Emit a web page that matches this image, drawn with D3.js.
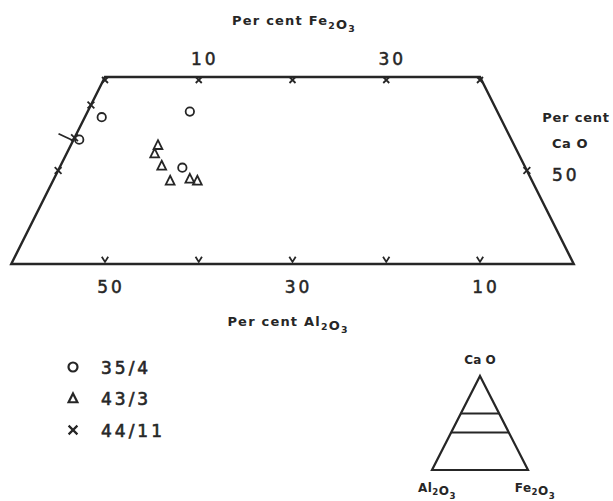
<!DOCTYPE html>
<html>
<head>
<meta charset="utf-8">
<script src="https://cdn.jsdelivr.net/npm/d3@7"></script>
<style>
  body { margin: 0; background: #fff; }
  svg { display: block; }
</style>
</head>
<body>
<div id="chart"></div>
<script>
// CaO-Al2O3-Fe2O3 ternary section (CaO 40-60 %), with inset key triangle

const WIDTH = 613;
const HEIGHT = 501;

// data: each point is {cao, fe} in per cent, Al2O3 is the rest
const s35_4 = [
	{cao: 55.7, fe: 1.8},
	{cao: 53.3, fe: 0.6},
	{cao: 56.3, fe: 10.9},
	{cao: 50.3, fe: 13.1}
];
const s43_3 = [
	{cao: 52.7, fe: 9.3},
	{cao: 51.8, fe: 9.4},
	{cao: 50.5, fe: 10.8},
	{cao: 48.9, fe: 12.5},
	{cao: 49.1, fe: 14.5},
	{cao: 48.9, fe: 15.4}
];
const s44_11 = [
	{cao: 57.0, fe: 0},
	{cao: 53.5, fe: 0}
];

const caoRange = [40, 60];
const feTicks = [0, 10, 20, 30, 40];     // along top edge (CaO = 60)
const feLabels = [10, 30];
const alTicks = [50, 40, 30, 20, 10];     // along bottom edge (CaO = 40)
const alLabels = [50, 30, 10];
const caoTicks = [50];                    // on both sloping edges
const caoLabels = [50];
const legendNames = ['35/4', '43/3', '44/11'];
const insetLines = [60, 40];              // CaO levels shown in key triangle

const INK = '#262626';

const svg = d3.select('#chart')
	.append('svg')
	.attr('width', WIDTH)
	.attr('height', HEIGHT)
	.attr('viewBox', `0 0 ${WIDTH} ${HEIGHT}`)
	.style('font-family', '"DejaVu Sans", sans-serif');

// horizontal position is driven by Fe2O3 + CaO/2, vertical by CaO
const xScale = d3.scaleLinear().domain([0, 100]).range([-176.25, 761.25]);
const yScale = d3.scaleLinear().domain(caoRange).range([264, 77]);
const proj = (cao, fe) => [xScale(fe + cao / 2), yScale(cao)];

const [cLo, cHi] = caoRange;
const corners = [
	proj(cHi, 0), proj(cHi, 100 - cHi),
	proj(cLo, 100 - cLo), proj(cLo, 0)
];

svg.append('path')
	.attr('d', d3.line()(corners) + 'Z')
	.attr('fill', 'none')
	.attr('stroke', INK)
	.attr('stroke-width', 2.4)
	.attr('stroke-linejoin', 'miter');

// small cross used for ticks and the 44/11 symbol
function crossPath(s) {
	return `M${-s},${-s}L${s},${s}M${s},${-s}L${-s},${s}`;
}

function vPath(s) {
	return `M${-s},${-s}L0,${s * 0.6}L${s},${-s}`;
}

// ticks on top edge (point inward = downward)
svg.append('g').selectAll('path')
	.data(feTicks)
	.join('path')
	.attr('transform', d => {
		const [x, y] = proj(cHi, d);
		return `translate(${x},${y + 3})`;
	})
	.attr('d', crossPath(3))
	.attr('stroke', INK)
	.attr('stroke-width', 1.8)
	.attr('fill', 'none');

// ticks on bottom edge (point upward)
svg.append('g').selectAll('path')
	.data(alTicks)
	.join('path')
	.attr('transform', d => {
		const [x, y] = proj(cLo, 100 - cLo - d);
		return `translate(${x},${y - 4})`;
	})
	.attr('d', vPath(3.2))
	.attr('stroke', INK)
	.attr('stroke-width', 1.8)
	.attr('fill', 'none');

// CaO ticks on left (Fe2O3 = 0) and right (Al2O3 = 0) edges
const sideTickPts = caoTicks.flatMap(c => [proj(c, 0), proj(c, 100 - c)]);
svg.append('g').selectAll('path')
	.data(sideTickPts)
	.join('path')
	.attr('transform', d => `translate(${d[0]},${d[1]})`)
	.attr('d', crossPath(3.4))
	.attr('stroke', INK)
	.attr('stroke-width', 1.8)
	.attr('fill', 'none');

// tick labels
const numStyle = sel => sel
	.attr('fill', INK)
	.attr('stroke', INK)
	.attr('stroke-width', 0.5)
	.style('font-size', '17px')
	.style('letter-spacing', '3px')
	.attr('text-anchor', 'middle');

svg.append('g').selectAll('text')
	.data(feLabels)
	.join('text')
	.attr('x', d => proj(cHi, d)[0] + 6)
	.attr('y', 65)
	.text(d => d)
	.call(numStyle);

svg.append('g').selectAll('text')
	.data(alLabels)
	.join('text')
	.attr('x', d => proj(cLo, 100 - cLo - d)[0] + 6)
	.attr('y', 293)
	.text(d => d)
	.call(numStyle);

svg.append('g').selectAll('text')
	.data(caoLabels)
	.join('text')
	.attr('x', d => proj(d, 100 - d)[0] + 39)
	.attr('y', d => proj(d, 100 - d)[1] + 10)
	.text(d => d)
	.call(numStyle);

// chemical formula helper with subscripts
function chem(g, x, y, parts, size, anchor) {
	const t = g.append('text')
		.attr('x', x)
		.attr('y', y)
		.attr('text-anchor', anchor || 'middle')
		.attr('fill', INK)
		.style('font-size', size + 'px')
		.style('font-weight', 'bold');
	parts.forEach(p => {
		const sub = /^[0-9]$/.test(p);
		t.append('tspan')
			.attr('dy', sub ? size * 0.28 : 0)
			.style('font-size', sub ? (size * 0.72) + 'px' : null)
			.text(p);
		if (sub) t.append('tspan').attr('dy', -size * 0.28).text('');
	});
	return t;
}

const titleSize = 13;
chem(svg, 294, 25, ['Per cent  Fe', '2', 'O', '3'], titleSize).style('letter-spacing', '1.2px');
chem(svg, 288, 326, ['Per cent  Al', '2', 'O', '3'], titleSize).style('letter-spacing', '1.2px');
chem(svg, 576, 122, ['Per cent'], titleSize).style('letter-spacing', '0.8px');
chem(svg, 570, 148, ['Ca O'], titleSize).style('letter-spacing', '0.5px');

// data points
const dotG = svg.append('g')
	.attr('fill', 'none')
	.attr('stroke', INK)
	.attr('stroke-width', 1.8);

dotG.selectAll('circle')
	.data(s35_4)
	.join('circle')
	.attr('cx', d => proj(d.cao, d.fe)[0])
	.attr('cy', d => proj(d.cao, d.fe)[1])
	.attr('r', 4.2);

const triPath = s => `M0,${-s * 1.15}L${s},${s * 0.85}L${-s},${s * 0.85}Z`;

dotG.selectAll('path.tri')
	.data(s43_3)
	.join('path')
	.attr('class', 'tri')
	.attr('transform', d => {
		const [x, y] = proj(d.cao, d.fe);
		return `translate(${x},${y})`;
	})
	.attr('d', triPath(4.4));

dotG.selectAll('path.x')
	.data(s44_11)
	.join('path')
	.attr('class', 'x')
	.attr('transform', d => {
		const [x, y] = proj(d.cao, d.fe);
		return `translate(${x},${y})`;
	})
	.attr('d', crossPath(3.4));

// pointer to the lower 44/11 point
const [px, py] = proj(s44_11[1].cao, s44_11[1].fe);
svg.append('line')
	.attr('x1', px - 16).attr('y1', py - 4)
	.attr('x2', px - 1).attr('y2', py + 3)
	.attr('stroke', INK)
	.attr('stroke-width', 1.8);

// legend
const legend = svg.append('g').attr('transform', 'translate(73,367)');
const legRow = legend.selectAll('g')
	.data(legendNames)
	.join('g')
	.attr('transform', (d, i) => `translate(0,${i * 31.5})`);

legRow.each(function(d, i) {
	const g = d3.select(this);
	if (i === 0) {
		g.append('circle').attr('r', 4.5);
	} else if (i === 1) {
		g.append('path').attr('d', triPath(4.4));
	} else {
		g.append('path').attr('d', crossPath(4.4));
	}
	g.selectAll('circle, path')
		.attr('fill', 'none')
		.attr('stroke', INK)
		.attr('stroke-width', 2.2);
	g.append('text')
		.attr('x', 28)
		.attr('y', 6.5)
		.attr('fill', INK)
		.attr('stroke', INK)
		.attr('stroke-width', 0.6)
		.style('font-size', '17px')
		.style('letter-spacing', '3px')
		.text(d);
});

// inset key triangle
const ix = d3.scaleLinear().domain([0, 100]).range([432, 528]);
const iy = d3.scaleLinear().domain([0, 100]).range([470, 376]);
const iproj = (cao, fe) => [ix(fe + cao / 2), iy(cao)];

svg.append('path')
	.attr('d', d3.line()([iproj(100, 0), iproj(0, 100), iproj(0, 0)]) + 'Z')
	.attr('fill', 'none')
	.attr('stroke', INK)
	.attr('stroke-width', 2.2);

svg.append('g').selectAll('line')
	.data(insetLines)
	.join('line')
	.attr('x1', d => iproj(d, 0)[0])
	.attr('y1', d => iproj(d, 0)[1])
	.attr('x2', d => iproj(d, 100 - d)[0])
	.attr('y2', d => iproj(d, 100 - d)[1])
	.attr('stroke', INK)
	.attr('stroke-width', 2);

chem(svg, 480, 364, ['Ca O'], 12);
chem(svg, 437, 492, ['Al', '2', 'O', '3'], 12).style('letter-spacing', '0.5px');
chem(svg, 535, 492, ['Fe', '2', 'O', '3'], 12).style('letter-spacing', '0.5px');
</script>
</body>
</html>
